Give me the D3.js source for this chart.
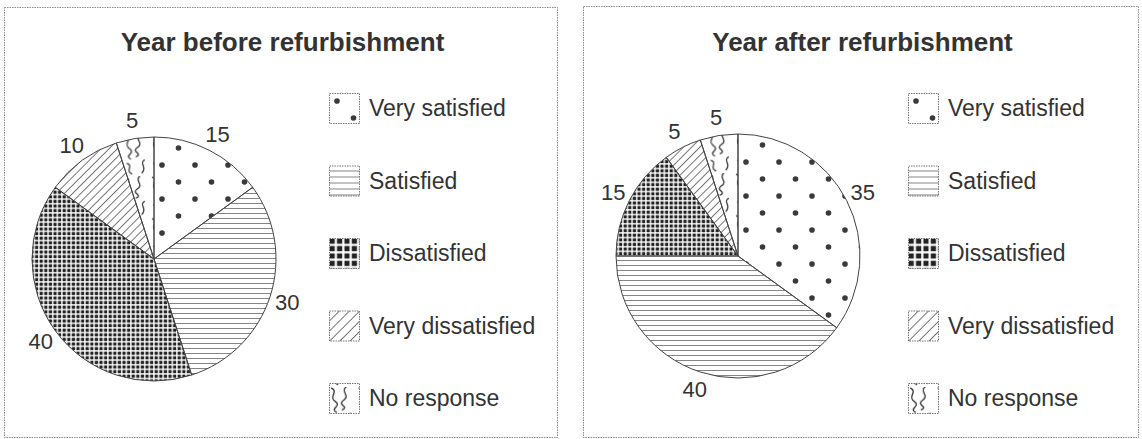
<!DOCTYPE html>
<html>
<head>
<meta charset="utf-8">
<script src="https://cdn.jsdelivr.net/npm/d3@7"></script>
<style>
  body { margin: 0; background: #fff; }
  svg { display: block; font-family: "Liberation Sans", Arial, Helvetica, sans-serif; }
</style>
</head>
<body>
<svg id="chart" width="1142" height="439"></svg>
<script>
// data
const categories = ["Very satisfied", "Satisfied", "Dissatisfied", "Very dissatisfied", "No response"];
const panelTitles = ["Year before refurbishment", "Year after refurbishment"];
const beforeValues = [15, 30, 40, 10, 5];
const afterValues = [35, 40, 15, 5, 5];
const fillKeys = ["dots", "hlines", "grid", "diag", "wavy"];

const svg = d3.select("#chart");
const defs = svg.append("defs");
const ink = "#3a3a3a";

// worm-like squiggles for "No response"
const squiggles = [
  "M3,1 C9,4 0,8 6,12 S 1,18 7,21",
  "M15,0 C10,4 19,7 13,11 S 18,16 12,19",
  "M4,25 C10,27 2,31 8,34",
  "M19,22 C14,25 22,28 17,33"
];

// fill patterns, one set for the pies and a coarser one for legend boxes
function addPatterns(prefix, o) {
  let p = defs.append("pattern").attr("id", prefix + "dots")
    .attr("patternUnits", "userSpaceOnUse").attr("width", o.dotW).attr("height", o.dotH);
  p.append("circle").attr("cx", 8).attr("cy", 8).attr("r", 2.8).attr("fill", ink);
  p.append("circle").attr("cx", 8 + o.dotW / 2).attr("cy", 8 + o.dotH / 2).attr("r", 2.8).attr("fill", ink);

  p = defs.append("pattern").attr("id", prefix + "hlines")
    .attr("patternUnits", "userSpaceOnUse").attr("width", 10).attr("height", o.line);
  p.append("line").attr("x1", 0).attr("x2", 10).attr("y1", o.line - 0.5).attr("y2", o.line - 0.5)
    .attr("stroke", "#777").attr("stroke-width", 0.9);

  p = defs.append("pattern").attr("id", prefix + "grid")
    .attr("patternUnits", "userSpaceOnUse").attr("width", o.grid).attr("height", o.grid);
  p.append("rect").attr("x", 0.6).attr("y", 0.6).attr("width", o.grid * 0.7).attr("height", o.grid * 0.7)
    .attr("fill", "#222");

  p = defs.append("pattern").attr("id", prefix + "diag")
    .attr("patternUnits", "userSpaceOnUse").attr("width", o.diag).attr("height", o.diag)
    .attr("patternTransform", "rotate(45)");
  p.append("line").attr("x1", 0.5).attr("x2", 0.5).attr("y1", 0).attr("y2", o.diag)
    .attr("stroke", "#666").attr("stroke-width", 0.9);

  p = defs.append("pattern").attr("id", prefix + "wavy")
    .attr("patternUnits", "userSpaceOnUse").attr("width", 23).attr("height", 36)
    .attr("patternTransform", o.wavyT);
  squiggles.forEach(s => {
    p.append("path").attr("d", s)
      .attr("fill", "none").attr("stroke", "#2e2e2e").attr("stroke-width", 1.1)
      .attr("stroke-linecap", "round");
  });
}
addPatterns("pie-", { dotW: 33, dotH: 34, line: 5, grid: 4.6, diag: 5.8, wavyT: "translate(-5,0) scale(1.15)" });
addPatterns("leg-", { dotW: 33, dotH: 34, line: 6, grid: 7.4, diag: 7.2, wavyT: "translate(-1,4) scale(1.2)" });

const panels = [
  { x: 4, y: 7, w: 553, h: 430, values: beforeValues, title: panelTitles[0] },
  { x: 583, y: 6, w: 555, h: 431, values: afterValues, title: panelTitles[1] }
];

const radius = 122;
const labelR = 140;
const pie = d3.pie().sort(null).value(d => d.value);
const arc = d3.arc().innerRadius(0).outerRadius(radius);
const labelArc = d3.arc().innerRadius(labelR).outerRadius(labelR);

panels.forEach((pn, pi) => {
  const g = svg.append("g");

  g.append("rect")
    .attr("x", pn.x + 0.5).attr("y", pn.y + 0.5)
    .attr("width", pn.w).attr("height", pn.h)
    .attr("fill", "none").attr("stroke", "#8c8c8c")
    .attr("stroke-width", 1).attr("stroke-dasharray", "1.5,1");

  g.append("text")
    .attr("x", pn.x + pn.w / 2 + 2).attr("y", 51)
    .attr("text-anchor", "middle")
    .attr("font-size", 26).attr("font-weight", "bold")
    .attr("fill", "#333")
    .text(pn.title);

  const rows = categories.map((c, i) => ({ name: c, value: pn.values[i], key: fillKeys[i] }));
  const cx = pn.x + (pi === 0 ? 150 : 155);
  const cy = pi === 0 ? 259 : 256;
  const pg = g.append("g").attr("transform", `translate(${cx},${cy})`);

  const slices = pie(rows);
  pg.selectAll("path.slice")
    .data(slices)
    .join("path")
    .attr("class", "slice")
    .attr("d", arc)
    .attr("fill", d => `url(#pie-${d.data.key})`)
    .attr("stroke", "#444")
    .attr("stroke-width", 1);

  pg.selectAll("text.val")
    .data(slices)
    .join("text")
    .attr("class", "val")
    .attr("transform", d => `translate(${labelArc.centroid(d)})`)
    .attr("text-anchor", "middle")
    .attr("dominant-baseline", "central")
    .attr("font-size", 22)
    .attr("fill", "#333")
    .text(d => d.data.value);

  // legend
  const y = d3.scalePoint().domain(categories).range([108, 398]);
  const lg = g.selectAll("g.leg")
    .data(rows)
    .join("g")
    .attr("class", "leg")
    .attr("transform", d => `translate(${pn.x + 325},${y(d.name) - 15})`);

  lg.append("rect")
    .attr("x", 0.5).attr("y", 0.5)
    .attr("width", 30).attr("height", 30)
    .attr("fill", "#fff");
  lg.append("rect")
    .attr("x", 0.5).attr("y", 0.5)
    .attr("width", 30).attr("height", 30)
    .attr("fill", d => `url(#leg-${d.key})`)
    .attr("stroke", "#777").attr("stroke-width", 1)
    .attr("stroke-dasharray", "1.5,1");

  lg.append("text")
    .attr("x", 40).attr("y", 15)
    .attr("dominant-baseline", "central")
    .attr("font-size", 23)
    .attr("fill", "#333")
    .text(d => d.name);
});
</script>
</body>
</html>
